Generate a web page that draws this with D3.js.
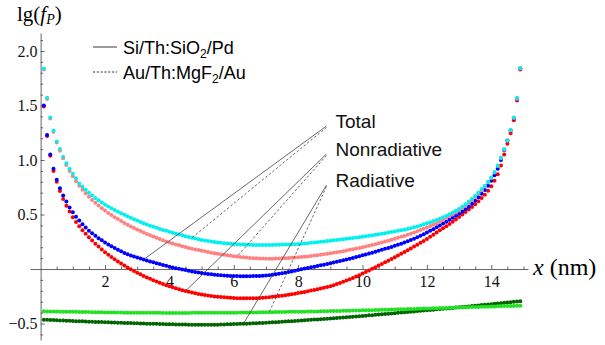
<!DOCTYPE html>
<html>
<head>
<meta charset="utf-8">
<script src="https://cdn.jsdelivr.net/npm/d3@7"></script>
<style>
  body { margin: 0; background: #fff; }
</style>
</head>
<body>
<div id="chart"></div>
<script>
// distance from the first surface, nm
const xNm = [0.1,0.2,0.3,0.4,0.5,0.6,0.7,0.8,0.9,1.0,1.1,1.2,1.3,1.4,1.5,1.6,1.7,1.8,1.9,2.0,
  2.1,2.2,2.3,2.4,2.5,2.6,2.7,2.8,2.9,3.0,3.1,3.2,3.3,3.4,3.5,3.6,3.7,3.8,3.9,4.0,
  4.1,4.2,4.3,4.4,4.5,4.6,4.7,4.8,4.9,5.0,5.1,5.2,5.3,5.4,5.5,5.6,5.7,5.8,5.9,6.0,
  6.1,6.2,6.3,6.4,6.5,6.6,6.7,6.8,6.9,7.0,7.1,7.2,7.3,7.4,7.5,7.6,7.7,7.8,7.9,8.0,
  8.1,8.2,8.3,8.4,8.5,8.6,8.7,8.8,8.9,9.0,9.1,9.2,9.3,9.4,9.5,9.6,9.7,9.8,9.9,10.0,
  10.1,10.2,10.3,10.4,10.5,10.6,10.7,10.8,10.9,11.0,11.1,11.2,11.3,11.4,11.5,11.6,11.7,11.8,11.9,12.0,
  12.1,12.2,12.3,12.4,12.5,12.6,12.7,12.8,12.9,13.0,13.1,13.2,13.3,13.4,13.5,13.6,13.7,13.8,13.9,14.0,
  14.1,14.2,14.3,14.4,14.5,14.6,14.7,14.8,14.9];

// Au/Th:MgF2/Au, total (cyan)
const totalAu = [1.84,1.57,1.39,1.27,1.17,1.10,1.03,0.97,0.92,0.875,0.833,0.785,0.755,0.727,0.70,0.676,0.652,0.63,0.61,0.59,
  0.573,0.557,0.541,0.526,0.512,0.498,0.484,0.470,0.456,0.444,0.432,0.420,0.409,0.398,0.388,0.378,0.368,0.359,0.350,0.341,
  0.333,0.325,0.317,0.309,0.301,0.294,0.287,0.280,0.273,0.266,0.261,0.256,0.252,0.248,0.244,0.240,0.237,0.234,0.231,0.229,
  0.227,0.225,0.224,0.223,0.222,0.221,0.220,0.220,0.220,0.220,0.220,0.221,0.222,0.223,0.224,0.225,0.226,0.227,0.228,0.230,
  0.232,0.234,0.237,0.240,0.243,0.246,0.250,0.253,0.257,0.260,0.264,0.267,0.271,0.274,0.278,0.281,0.285,0.289,0.292,0.296,
  0.300,0.305,0.309,0.314,0.319,0.324,0.329,0.334,0.340,0.345,0.350,0.355,0.360,0.367,0.375,0.383,0.391,0.400,0.410,0.420,
  0.430,0.440,0.450,0.462,0.475,0.489,0.503,0.518,0.534,0.550,0.571,0.595,0.620,0.645,0.672,0.702,0.733,0.765,0.80,0.84,
  0.89,0.95,1.02,1.10,1.18,1.275,1.39,1.57,1.845];

// Au/Th:MgF2/Au, nonradiative (pink)
const nonradAu = [1.83,1.56,1.38,1.26,1.16,1.085,1.015,0.955,0.90,0.85,0.805,0.765,0.728,0.695,0.663,0.634,0.607,0.582,0.558,0.536,
  0.515,0.495,0.476,0.458,0.44,0.423,0.407,0.391,0.376,0.362,0.348,0.335,0.322,0.31,0.298,0.286,0.275,0.264,0.253,0.243,
  0.234,0.225,0.217,0.209,0.201,0.194,0.187,0.18,0.174,0.168,0.162,0.156,0.15,0.145,0.14,0.135,0.13,0.126,0.122,0.118,
  0.114,0.111,0.108,0.105,0.102,0.10,0.098,0.097,0.096,0.095,0.095,0.095,0.096,0.097,0.098,0.099,0.101,0.103,0.105,0.107,
  0.11,0.113,0.116,0.119,0.123,0.127,0.131,0.135,0.139,0.144,0.149,0.154,0.159,0.164,0.17,0.176,0.182,0.188,0.194,0.20,
  0.207,0.214,0.221,0.228,0.236,0.244,0.252,0.26,0.268,0.277,0.286,0.295,0.304,0.314,0.324,0.335,0.346,0.357,0.369,0.381,
  0.394,0.407,0.421,0.436,0.451,0.467,0.484,0.501,0.519,0.538,0.559,0.582,0.606,0.632,0.66,0.69,0.722,0.757,0.795,0.835,
  0.885,0.945,1.015,1.095,1.18,1.27,1.385,1.56,1.84];

// Si/Th:SiO2/Pd, total (blue)
const totalSi = [1.50,1.23,1.05,0.92,0.82,0.74,0.675,0.62,0.565,0.52,0.48,0.445,0.41,0.38,0.352,0.328,0.305,0.283,0.263,0.244,
  0.226,0.209,0.193,0.177,0.162,0.148,0.136,0.125,0.115,0.105,0.096,0.087,0.078,0.070,0.062,0.054,0.046,0.038,0.030,0.022,
  0.015,0.008,0.002,-0.004,-0.010,-0.016,-0.022,-0.027,-0.032,-0.037,-0.041,-0.045,-0.049,-0.052,-0.055,-0.058,-0.060,-0.062,-0.063,-0.064,
  -0.065,-0.066,-0.066,-0.066,-0.066,-0.065,-0.064,-0.063,-0.061,-0.059,-0.056,-0.052,-0.048,-0.044,-0.039,-0.034,-0.028,-0.022,-0.015,-0.008,
  -0.002,0.004,0.010,0.016,0.022,0.028,0.034,0.040,0.046,0.052,0.059,0.066,0.073,0.080,0.087,0.094,0.102,0.110,0.118,0.126,
  0.134,0.142,0.150,0.158,0.167,0.176,0.185,0.194,0.203,0.213,0.223,0.233,0.244,0.255,0.266,0.278,0.291,0.305,0.32,0.335,
  0.350,0.366,0.383,0.40,0.417,0.434,0.452,0.47,0.488,0.507,0.527,0.548,0.572,0.598,0.627,0.658,0.69,0.725,0.765,0.81,
  0.86,0.92,1.0,1.09,1.18,1.27,1.38,1.555,1.84];

// Si/Th:SiO2/Pd, nonradiative (red)
const nonradSi = [1.49,1.22,1.04,0.90,0.80,0.715,0.643,0.580,0.527,0.475,0.432,0.392,0.356,0.323,0.292,0.262,0.233,0.206,0.18,0.155,
  0.132,0.110,0.089,0.069,0.050,0.032,0.015,-0.002,-0.018,-0.034,-0.049,-0.063,-0.077,-0.090,-0.103,-0.115,-0.127,-0.138,-0.149,-0.159,
  -0.168,-0.177,-0.186,-0.194,-0.202,-0.209,-0.216,-0.222,-0.228,-0.233,-0.238,-0.243,-0.247,-0.251,-0.254,-0.257,-0.260,-0.262,-0.264,-0.266,
  -0.267,-0.268,-0.269,-0.269,-0.269,-0.268,-0.267,-0.265,-0.263,-0.261,-0.258,-0.255,-0.252,-0.248,-0.244,-0.240,-0.236,-0.231,-0.226,-0.221,
  -0.216,-0.210,-0.204,-0.198,-0.192,-0.185,-0.178,-0.171,-0.164,-0.157,-0.148,-0.138,-0.128,-0.117,-0.106,-0.094,-0.082,-0.069,-0.056,-0.042,
  -0.028,-0.013,0.002,0.017,0.032,0.047,0.062,0.077,0.092,0.108,0.124,0.140,0.156,0.172,0.189,0.206,0.223,0.240,0.258,0.276,
  0.295,0.315,0.336,0.355,0.374,0.393,0.413,0.434,0.455,0.477,0.50,0.523,0.546,0.57,0.595,0.622,0.651,0.682,0.718,0.76,
  0.81,0.87,0.95,1.05,1.15,1.245,1.365,1.545,1.83];

// Au/Th:MgF2/Au, radiative (light green)
const radAu = [-0.388,-0.389,-0.389,-0.390,-0.390,-0.391,-0.391,-0.392,-0.392,-0.393,-0.393,-0.394,-0.394,-0.395,-0.395,-0.396,-0.396,-0.397,-0.397,-0.398,
  -0.398,-0.398,-0.399,-0.399,-0.399,-0.400,-0.400,-0.400,-0.401,-0.401,-0.401,-0.401,-0.402,-0.402,-0.402,-0.402,-0.402,-0.403,-0.403,-0.403,
  -0.403,-0.403,-0.403,-0.403,-0.403,-0.403,-0.402,-0.402,-0.402,-0.402,-0.402,-0.402,-0.401,-0.401,-0.401,-0.401,-0.401,-0.400,-0.400,-0.400,
  -0.400,-0.399,-0.399,-0.399,-0.398,-0.398,-0.398,-0.397,-0.397,-0.397,-0.396,-0.396,-0.395,-0.395,-0.394,-0.394,-0.393,-0.393,-0.392,-0.392,
  -0.391,-0.391,-0.390,-0.390,-0.389,-0.389,-0.388,-0.387,-0.387,-0.386,-0.385,-0.385,-0.384,-0.383,-0.383,-0.382,-0.381,-0.381,-0.380,-0.379,
  -0.378,-0.378,-0.377,-0.376,-0.375,-0.374,-0.374,-0.373,-0.372,-0.371,-0.370,-0.369,-0.368,-0.367,-0.367,-0.366,-0.365,-0.364,-0.363,-0.362,
  -0.361,-0.360,-0.359,-0.358,-0.358,-0.357,-0.356,-0.355,-0.354,-0.353,-0.352,-0.351,-0.350,-0.349,-0.349,-0.348,-0.347,-0.346,-0.345,-0.344,
  -0.343,-0.342,-0.341,-0.340,-0.340,-0.339,-0.338,-0.337,-0.336];

// Si/Th:SiO2/Pd, radiative (dark green)
const radSi = [-0.465,-0.466,-0.467,-0.468,-0.469,-0.471,-0.472,-0.474,-0.475,-0.477,-0.478,-0.479,-0.480,-0.481,-0.483,-0.484,-0.485,-0.486,-0.487,-0.488,
  -0.489,-0.490,-0.491,-0.492,-0.493,-0.494,-0.495,-0.496,-0.497,-0.498,-0.499,-0.500,-0.501,-0.502,-0.503,-0.503,-0.504,-0.505,-0.506,-0.506,
  -0.507,-0.508,-0.508,-0.509,-0.509,-0.510,-0.510,-0.511,-0.511,-0.511,-0.511,-0.511,-0.511,-0.510,-0.510,-0.509,-0.508,-0.507,-0.506,-0.505,
  -0.504,-0.503,-0.502,-0.501,-0.500,-0.498,-0.497,-0.496,-0.494,-0.493,-0.491,-0.489,-0.488,-0.486,-0.484,-0.482,-0.480,-0.478,-0.476,-0.474,
  -0.472,-0.470,-0.468,-0.466,-0.464,-0.462,-0.460,-0.458,-0.456,-0.454,-0.452,-0.450,-0.447,-0.445,-0.443,-0.440,-0.438,-0.435,-0.433,-0.430,
  -0.428,-0.425,-0.423,-0.420,-0.418,-0.415,-0.412,-0.410,-0.407,-0.405,-0.402,-0.399,-0.397,-0.394,-0.391,-0.389,-0.386,-0.383,-0.381,-0.378,
  -0.375,-0.373,-0.370,-0.367,-0.365,-0.362,-0.359,-0.357,-0.354,-0.351,-0.348,-0.346,-0.343,-0.340,-0.337,-0.334,-0.331,-0.328,-0.325,-0.322,
  -0.319,-0.316,-0.313,-0.310,-0.307,-0.304,-0.301,-0.298,-0.295];

const xTicks = [2, 4, 6, 8, 10, 12, 14];
const xMinor = [0.5,1,1.5,2.5,3,3.5,4.5,5,5.5,6.5,7,7.5,8.5,9,9.5,10.5,11,11.5,12.5,13,13.5,14.5,15];
const yTicks = [-0.5, 0.5, 1.0, 1.5, 2.0];
const yTickLabels = ["\u22120.5", "0.5", "1.0", "1.5", "2.0"];
const yMinor = [-0.6,-0.4,-0.3,-0.2,-0.1,0.1,0.2,0.3,0.4,0.6,0.7,0.8,0.9,1.1,1.2,1.3,1.4,1.6,1.7,1.8,1.9,2.1];

const series = [
  { name: 'radSi', values: radSi, color: '#006400' },
  { name: 'nonradSi', values: nonradSi, color: '#ff0000' },
  { name: 'totalSi', values: totalSi, color: '#0000ff' },
  { name: 'radAu', values: radAu, color: '#22e022' },
  { name: 'nonradAu', values: nonradAu, color: '#ff8080' },
  { name: 'totalAu', values: totalAu, color: '#00f0f0' }
];

// callouts: label, then the x (nm) where the solid / dashed leader meets its series
const callouts = [
  { label: 'Total', solid: ['totalSi', 3.2], dashed: ['totalAu', 4.7] },
  { label: 'Nonradiative', solid: ['nonradSi', 4.5], dashed: ['nonradAu', 6.1] },
  { label: 'Radiative', solid: ['radSi', 6.3], dashed: ['radAu', 7.1] }
];

const width = 605;
const height = 345;

const svg = d3.select('#chart')
  .append('svg')
  .attr('width', width)
  .attr('height', height)
  .style('background-color', 'white');

const x = d3.scaleLinear([-0.33, 15.14], [30, 528]);
const y = d3.scaleLinear([-0.651, 2.165], [340, 33]);

const serif = 'Liberation Serif, Times New Roman, serif';
const sans = 'Liberation Sans, Arial, sans-serif';

// x axis
const gX = svg.append('g')
  .attr('transform', `translate(0, ${y(0)})`)
  .call(d3.axisBottom(x).tickValues(xTicks).tickSize(-4).tickSizeOuter(0).tickPadding(7));
gX.append('g')
  .call(d3.axisBottom(x).tickValues(xMinor).tickSize(-2.5).tickFormat(''))
  .select('.domain').remove();

// y axis
const gY = svg.append('g')
  .attr('transform', `translate(${x(0)}, 0)`)
  .call(d3.axisLeft(y).tickValues(yTicks).tickSize(-4).tickSizeOuter(0).tickPadding(3)
    .tickFormat((d, i) => yTickLabels[i]));
gY.append('g')
  .call(d3.axisLeft(y).tickValues(yMinor).tickSize(-2.5).tickFormat(''))
  .select('.domain').remove();

svg.selectAll('.domain, .tick line').attr('stroke', '#555').attr('stroke-width', 0.9);
svg.selectAll('.tick text')
  .attr('fill', '#111')
  .style('font-family', serif)
  .style('font-size', '16px');

// points
series.forEach(s => {
  svg.append('g')
    .selectAll('circle')
    .data(xNm.map((d, i) => [d, s.values[i]]))
    .enter().append('circle')
    .attr('cx', d => x(d[0]))
    .attr('cy', d => y(d[1]))
    .attr('r', 2)
    .attr('fill', s.color);
});

// axis titles
const yTitle = svg.append('text')
  .attr('x', 17).attr('y', 21)
  .style('font-family', serif).style('font-size', '21px');
yTitle.append('tspan').text('lg(');
yTitle.append('tspan').style('font-style', 'italic').text('f');
yTitle.append('tspan').style('font-style', 'italic').style('font-size', '14px').attr('dy', 3).text('P');
yTitle.append('tspan').attr('dy', -3).text(')');

const xTitle = svg.append('text')
  .attr('x', 533).attr('y', 275)
  .style('font-family', serif).style('font-size', '24px');
xTitle.append('tspan').style('font-style', 'italic').text('x');
xTitle.append('tspan').text(' (nm)');

// legend
const legend = [
  { a: 'Si/Th:SiO', b: '/Pd', dash: null, row: 0 },
  { a: 'Au/Th:MgF', b: '/Au', dash: '2.2,1.6', row: 1 }
];
legend.forEach(l => {
  const ly = 47 + l.row * 25;
  svg.append('line')
    .attr('x1', 93).attr('x2', 117).attr('y1', ly).attr('y2', ly)
    .attr('stroke', '#222').attr('stroke-width', 0.9)
    .attr('stroke-dasharray', l.dash);
  const t = svg.append('text')
    .attr('x', 123).attr('y', ly + 6.5)
    .style('font-family', sans).style('font-size', '18px');
  t.append('tspan').text(l.a);
  t.append('tspan').attr('dy', 4).style('font-size', '12px').text('2');
  t.append('tspan').attr('dy', -4).text(l.b);
});

// callouts
const byName = {};
series.forEach(s => { byName[s.name] = s.values; });
const valueAt = (name, xv) => byName[name][xNm.findIndex(d => Math.abs(d - xv) < 1e-6)];

const labelX = x(9.16);
callouts.forEach((c, i) => {
  const base = [128, 156, 187][i];
  const sx = labelX - 9;
  const sy = base - 2;
  [[c.solid, null], [c.dashed, '2.5,2']].forEach(([target, dash], k) => {
    svg.append('line')
      .attr('x1', sx).attr('y1', sy + k * 1.5)
      .attr('x2', x(target[1])).attr('y2', y(valueAt(target[0], target[1])))
      .attr('stroke', '#444').attr('stroke-width', 0.8)
      .attr('stroke-dasharray', dash);
  });
  svg.append('text')
    .attr('x', labelX).attr('y', base)
    .style('font-family', sans).style('font-size', '19px')
    .attr('fill', '#111')
    .text(c.label);
});
</script>
</body>
</html>
